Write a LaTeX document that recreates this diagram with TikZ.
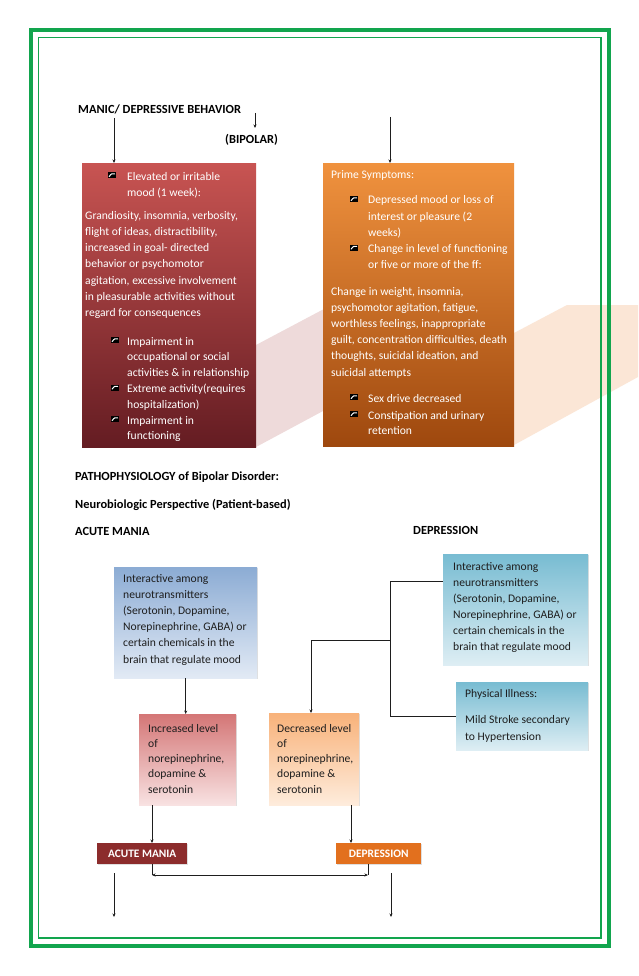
\documentclass[tikz,border=0pt]{standalone}
\usepackage{fontspec}
\setmainfont{Carlito}
\usetikzlibrary{arrows.meta,shadows,calc}
\definecolor{grn}{RGB}{18,165,78}
\definecolor{redA}{RGB}{200,84,82}
\definecolor{redB}{RGB}{100,28,34}
\definecolor{orA}{RGB}{240,146,62}
\definecolor{orB}{RGB}{158,72,14}
\definecolor{pinkband}{RGB}{238,218,218}
\definecolor{peachband}{RGB}{251,230,214}
\definecolor{bluA}{RGB}{140,172,212}
\definecolor{bluB}{RGB}{226,234,245}
\definecolor{tealA}{RGB}{120,188,210}
\definecolor{tealB}{RGB}{222,238,244}
\definecolor{pkA}{RGB}{212,118,118}
\definecolor{pkB}{RGB}{248,226,226}
\definecolor{pcA}{RGB}{248,178,122}
\definecolor{pcB}{RGB}{254,236,220}
\definecolor{amred}{RGB}{140,44,44}
\definecolor{deporg}{RGB}{226,112,30}
\definecolor{txt}{RGB}{30,30,30}
\begin{document}
\begin{tikzpicture}[x=1pt,y=-1pt,
  tip/.style={draw=txt,line width=0.7pt,-{Stealth[length=3.5pt,width=3pt]}},
  conn/.style={draw=txt,line width=0.8pt},
  wt/.style={text=white,font=\fontsize{11.6}{13}\selectfont,inner sep=0,anchor=base west},
  dk/.style={text=txt,font=\fontsize{11.6}{13}\selectfont,inner sep=0,anchor=base west},
  hd/.style={text=black,font=\bfseries\fontsize{12.4}{14}\selectfont,inner sep=0,anchor=base west},
  bigbox/.style={inner sep=0,anchor=north west,shading=axis,shading angle=45},
  smbox/.style={inner sep=0,anchor=north west,shading=axis,shading angle=45,
    drop shadow={opacity=0.25,shadow xshift=1.2pt,shadow yshift=-1.2pt}},
  lab/.style={inner sep=0,anchor=north west,text=white,font=\bfseries\fontsize{11.4}{13}\selectfont,
    drop shadow={opacity=0.25,shadow xshift=1pt,shadow yshift=-1pt}},
  bulicon/.pic={\fill[black] (-3.8,-3) rectangle (3.8,3);
    \draw[white,line width=1pt] (-3,1.8) .. controls (-0.5,-1.5) .. (3,-1.2);}
]
\useasboundingbox (0,0) rectangle (638,976);
\fill[white] (0,0) rectangle (638,976);

% pale background bands
\fill[pinkband] (256,345) -- (323,309.5) -- (323,411) -- (256,447) -- cycle;
\fill[peachband] (514,333) -- (567,305) -- (638,305) -- (638,377) -- (514,445) -- cycle;

% green frame
\draw[grn,line width=4.5pt] (31,30) rectangle (609,946);
\draw[grn,line width=1.6pt] (38.5,37.5) rectangle (601,938);

% headings
\node[hd] (h1) at (78,114) {MANIC/ DEPRESSIVE BEHAVIOR};
\node[hd] (h2) at (225,143.5) {(BIPOLAR)};
\node[hd] (h3) at (75,480.5) {PATHOPHYSIOLOGY of Bipolar Disorder:};
\node[hd] (h4) at (75,508.5) {Neurobiologic Perspective (Patient-based)};
\node[hd] (h5) at (75,535.5) {ACUTE MANIA};
\node[hd] (h6) at (413,534.5) {DEPRESSION};

% big boxes
\node[bigbox,top color=redA,bottom color=redB,minimum width=174pt,minimum height=284pt] (red) at (82,163) {};
\node[bigbox,top color=orA,bottom color=orB,minimum width=191pt,minimum height=283pt] (org) at (323,163) {};

% top arrows
\coordinate (s1) at (114,118);
\coordinate (s2) at (255,113);
\coordinate (e2) at (255,128);
\coordinate (s3) at (390,117);
\draw[tip] (s1) -- (s1 |- red.north);
\draw[tip] (s2) -- (e2);
\draw[tip] (s3) -- (s3 |- org.north);

% red box text
\pic at (112,175) {bulicon};
\node[wt] (r1) at (127,181) {Elevated or irritable};
\node[wt] (r2) at (127,196.5) {mood (1 week):};
\foreach \t [count=\i from 0] in {{Grandiosity, insomnia, verbosity,},{flight of ideas, distractibility,},{increased in goal- directed},{behavior or psychomotor},{agitation, excessive involvement},{in pleasurable activities without},{regard for consequences}}
  \node[wt] (rp\i) at (85,{219+16.3*\i}) {\t};
\foreach \t [count=\i from 0] in {{Impairment in},{occupational or social},{activities \& in relationship},{Extreme activity(requires},{hospitalization)},{Impairment in},{functioning}}
  \node[wt] (rb\i) at (127,{345+15.8*\i}) {\t};
\pic at (115,340) {bulicon};
\pic at (115,387.5) {bulicon};
\pic at (115,419) {bulicon};

% orange box text
\node[wt] (o0) at (331,179) {Prime Symptoms:};
\foreach \t [count=\i from 0] in {{Depressed mood or loss of},{interest or pleasure (2},{weeks)},{Change in level of functioning},{or five or more of the ff:}}
  \node[wt] (ob\i) at (368,{204+16.1*\i}) {\t};
\pic at (354,199) {bulicon};
\pic at (354,247.5) {bulicon};
\foreach \t [count=\i from 0] in {{Change in weight, insomnia,},{psychomotor agitation, fatigue,},{worthless feelings, inappropriate},{guilt, concentration difficulties, death},{thoughts, suicidal ideation, and},{suicidal attempts}}
  \node[wt] (op\i) at (331,{295+16.2*\i}) {\t};
\node[wt] (oc0) at (368,402) {Sex drive decreased};
\node[wt] (oc1) at (368,419) {Constipation and urinary};
\node[wt] (oc2) at (368,434) {retention};
\pic at (354,397) {bulicon};
\pic at (354,414) {bulicon};

% lower boxes
\node[smbox,top color=bluA,bottom color=bluB,minimum width=143pt,minimum height=111pt] (b1) at (114,567) {};
\node[smbox,top color=pkA,bottom color=pkB,minimum width=97pt,minimum height=91pt] (pk) at (139,714) {};
\node[smbox,top color=pcA,bottom color=pcB,minimum width=90pt,minimum height=92pt] (pc) at (269,713) {};
\node[smbox,shading angle=-45,top color=tealA,bottom color=tealB,minimum width=145pt,minimum height=111pt] (b2) at (443,554) {};
\node[smbox,shading angle=-45,top color=tealA,bottom color=tealB,minimum width=132pt,minimum height=68pt] (ph) at (456,682) {};

\foreach \t [count=\i from 0] in {{Interactive among},{neurotransmitters},{(Serotonin, Dopamine,},{Norepinephrine, GABA) or},{certain chemicals in the},{brain that regulate mood}}
  \node[dk] (bt\i) at (123,{582+16.2*\i}) {\t};
\foreach \t [count=\i from 0] in {{Increased level},{of},{norepinephrine,},{dopamine \&},{serotonin}}
  \node[dk] (pt\i) at (148,{732+15.3*\i}) {\t};
\foreach \t [count=\i from 0] in {{Decreased level},{of},{norepinephrine,},{dopamine \&},{serotonin}}
  \node[dk] (ct\i) at (277,{732+15.3*\i}) {\t};
\foreach \t [count=\i from 0] in {{Interactive among},{neurotransmitters},{(Serotonin, Dopamine,},{Norepinephrine, GABA) or},{certain chemicals in the},{brain that regulate mood}}
  \node[dk] (dt\i) at (453,{570+16*\i}) {\t};
\node[dk] (ph0) at (465,697) {Physical Illness:};
\node[dk] (ph1) at (465,723) {Mild Stroke secondary};
\node[dk] (ph2) at (465,740) {to Hypertension};

% labels
\node[lab,fill=amred,minimum width=90pt,minimum height=21pt] (am) at (97,843) {ACUTE MANIA};
\node[lab,fill=deporg,minimum width=85pt,minimum height=21pt] (dep) at (336,843) {DEPRESSION};

% connectors
\draw[tip] (b1.south) -- (b1.south |- pk.north);
\coordinate (j1) at ($(b2.north west)+(0,27)$);
\coordinate (j2) at (ph.west);
\coordinate (vx) at (390,640);
\coordinate (ax) at (311,640);
\draw[conn] (j1) -- (j1 -| vx) -- (j2 -| vx) -- (j2);
\draw[tip] (vx) -- (ax) -- (ax |- pc.north);
\coordinate (xa) at (152,875);
\coordinate (xd) at (351,875);
\coordinate (xe) at (368,875);
\draw[tip] (pk.south -| xa) -- (am.north -| xa);
\draw[tip] (pc.south -| xd) -- (dep.north -| xd);
\draw[conn] (am.south -| xa) -- (xa);
\draw[conn] (dep.south -| xe) -- (xe);
\draw[conn,{Stealth[length=3.5pt,width=3pt]}-{Stealth[length=3.5pt,width=3pt]}] (xa) -- (xe);
\coordinate (d1) at (114,873);
\coordinate (d2) at (114,917);
\coordinate (d3) at (391,873);
\coordinate (d4) at (391,917);
\draw[tip] (d1) -- (d2);
\draw[tip] (d3) -- (d4);
\end{tikzpicture}
\end{document}
